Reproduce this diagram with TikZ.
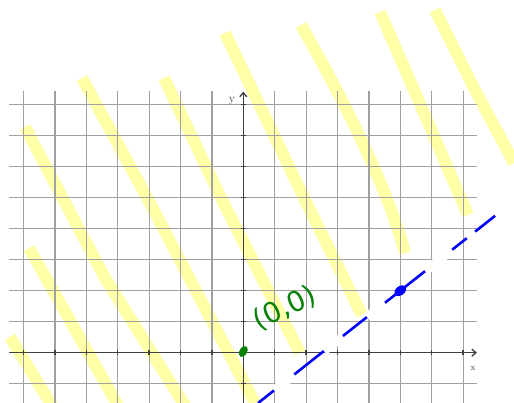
\documentclass[tikz,border=0pt]{standalone}
\usepackage{fontspec}
\newfontfamily\handfont{DejaVu Sans}
\usetikzlibrary{arrows.meta,shapes.geometric}
\definecolor{hl}{RGB}{255,255,168}
\definecolor{gridc}{RGB}{160,160,160}
\definecolor{axisc}{RGB}{65,65,65}
\definecolor{bl}{RGB}{0,0,255}
\definecolor{gr}{RGB}{10,130,10}
\tikzset{
  hlstroke/.style={draw=hl, line width=12pt, line cap=butt, line join=round},
  gridline/.style={draw=gridc, line width=1.2pt},
  axisline/.style={draw=axisc, line width=1.4pt, -{Straight Barb[length=4pt,width=7pt]}},
  tickmark/.style={draw=axisc, line width=1.4pt},
  eraser/.style={draw=white, line width=9pt},
  bluedash/.style={draw=bl, line width=2.6pt},
  axlabel/.style={text=axisc, inner sep=0pt},
  dotmark/.style={ellipse, inner sep=0pt, draw=none},
}
\begin{document}
\begin{tikzpicture}[x=1pt,y=1pt]
\useasboundingbox (0,0) rectangle (514,403);
% highlighter strokes
\draw[hlstroke] (25,276) -- (105,125) -- (187,-6);
\draw[hlstroke] (82,325) -- (150,200) -- (258,-6);
\draw[hlstroke] (164,325) -- (221,205) -- (300,50);
\draw[hlstroke] (225,370) -- (304,205) -- (362,88);
\draw[hlstroke] (301,378) .. controls (335,318) and (385,225) .. (405,150);
\draw[hlstroke] (380,391) -- (424,290) -- (468,188);
\draw[hlstroke] (435,393) -- (474,315) -- (514,240);
\draw[hlstroke] (29,155) -- (120,-6);
\draw[hlstroke] (10,66) -- (54,-6);
\begin{scope}[shift={(243.3,50.3)}, x=31.4pt, y=31pt]
  % grid
  \foreach \i in {-7,...,-1,1,2,...,7}
    \draw[gridline] (\i,-1.7) -- (\i,8.44);
  \foreach \j in {-1,1,2,...,8}
    \draw[gridline] (-7.46,\j) -- (7.44,\j);
  % axes
  \coordinate (xs) at (-7.46,0);
  \coordinate (xe) at (7.44,0);
  \coordinate (ys) at (0,-1.7);
  \coordinate (ye) at (0,8.42);
  \draw[axisline] (xs) -- (xe);
  \draw[axisline] (ys) -- (ye);
  \foreach \i in {-7,...,-1,1,2,...,7}
    \draw[tickmark] (\i,-0.08) -- (\i,0.08);
  \foreach \j in {-1,1,2,...,8}
    \draw[tickmark] (-0.08,\j) -- (0.08,\j);
  \node[axlabel, font=\fontsize{12}{12}\selectfont] (ylab) at (-0.36,8.1) {y};
  \node[axlabel, font=\fontsize{9}{9}\selectfont] (xlab) at (7.32,-0.5) {x};
  % blue line
  \coordinate (lb) at (0.471,-1.623);
  \coordinate (lt) at (8.02,4.416);
  \draw[bluedash] (lb) -- (lt);
  \foreach \a/\b in {0.98/1.62, 2.57/3.17, 3.94/4.51, 5.79/6.65, 7.12/7.38}
    \draw[eraser] (\a,{0.8*\a-2}) -- (\b,{0.8*\b-2});
  \node[dotmark, fill=bl, minimum width=13pt, minimum height=9pt, rotate=38] (bdot) at (5,2) {};
  % green origin mark
  \node[dotmark, fill=gr, minimum width=12pt, minimum height=7.5pt, rotate=60] (gdot) at (0,0.04) {};
  \node[text=gr, font=\handfont\fontsize{28}{28}\selectfont, rotate=25, inner sep=0pt] (olab) at (1.33,1.44) {(0,0)};
\end{scope}
\end{tikzpicture}
\end{document}
